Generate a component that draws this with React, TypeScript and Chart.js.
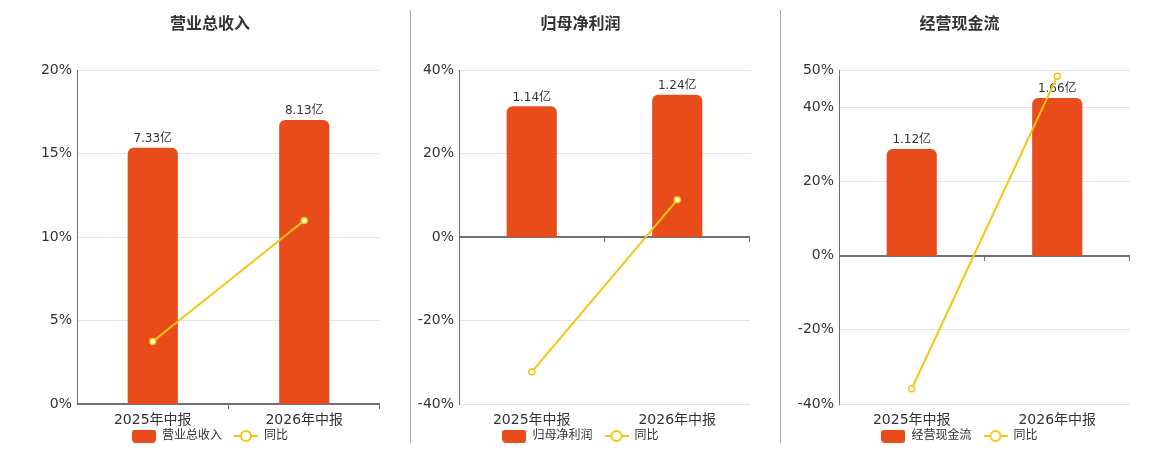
import React, { useEffect, useRef } from 'react';
import { Chart, registerables } from 'chart.js';

Chart.register(...registerables);

// Data
const categories = ['2025年中报', '2026年中报'];

const revenueValues = [7.33, 8.13];
const revenueYoY = [3.74, 10.99];
const revenueTicks = [0, 5, 10, 15, 20];

const profitValues = [1.14, 1.24];
const profitYoY = [-32.3, 8.9];
const profitTicks = [-40, -20, 0, 20, 40];

const cashValues = [1.12, 1.66];
const cashYoY = [-35.9, 48.3];
const cashTicks = [-40, -20, 0, 20, 40, 50];

const BAR_COLOR = '#e84c1b';
const LINE_COLOR = '#f3c612';
const TEXT_COLOR = '#333333';
const AXIS_COLOR = '#6e7079';
const GRID_COLOR = '#e0e6f1';
const FONT = '"DejaVu Sans", "Noto Sans CJK SC", sans-serif';

Chart.defaults.font.family = FONT;

// Legend swatches drawn on small canvases
const makeBarSwatch = () => {
  const c = document.createElement('canvas');
  c.width = 24;
  c.height = 13;
  const ctx = c.getContext('2d');
  if (ctx) {
    ctx.fillStyle = BAR_COLOR;
    ctx.beginPath();
    ctx.roundRect(0, 0, 24, 13, 3);
    ctx.fill();
  }
  return c;
};

const makeLineSwatch = () => {
  const c = document.createElement('canvas');
  c.width = 24;
  c.height = 14;
  const ctx = c.getContext('2d');
  if (ctx) {
    ctx.strokeStyle = LINE_COLOR;
    ctx.lineWidth = 2;
    ctx.beginPath();
    ctx.moveTo(0, 7);
    ctx.lineTo(24, 7);
    ctx.stroke();
    ctx.beginPath();
    ctx.arc(12, 7, 5, 0, Math.PI * 2);
    ctx.fillStyle = '#ffffff';
    ctx.fill();
    ctx.stroke();
  }
  return c;
};

interface PanelProps {
  title: string;
  barLabel: string;
  values: number[];
  yoy: number[];
  ticks: number[];
  barMin: number;
  barMax: number;
  left: number;
  width: number;
  axisWidth: number;
  padRight: number;
}

const Panel: React.FC<PanelProps> = ({
  title, barLabel, values, yoy, ticks, barMin, barMax, left, width, axisWidth, padRight,
}) => {
  const canvasRef = useRef<HTMLCanvasElement>(null);

  useEffect(() => {
    if (!canvasRef.current) return;

    const barSwatch = makeBarSwatch();
    const lineSwatch = makeLineSwatch();

    // the x labels hang below a thin axis box, so widen its clip area
    const labelRoom = {
      id: 'labelRoom',
      afterLayout(chart: any) {
        chart.scales.x.bottom = chart.scales.x.top + 30;
      },
    };

    // zero line with tick marks at category boundaries
    const zeroLine = {
      id: 'zeroLine',
      beforeDatasetsDraw(chart: any) {
        const { ctx, chartArea, scales } = chart;
        const y = Math.round(scales.y.getPixelForValue(0));
        ctx.save();
        ctx.strokeStyle = AXIS_COLOR;
        ctx.lineWidth = 2;
        ctx.beginPath();
        ctx.moveTo(chartArea.left, y);
        ctx.lineTo(chartArea.right, y);
        ctx.stroke();
        ctx.lineWidth = 1;
        const n = categories.length;
        for (let i = 1; i <= n; i++) {
          const x = Math.round(chartArea.left + (i * (chartArea.right - chartArea.left)) / n) - 0.5;
          ctx.beginPath();
          ctx.moveTo(x, y);
          ctx.lineTo(x, y + 5);
          ctx.stroke();
        }
        ctx.restore();
      },
    };

    // value labels above the bars, drawn before the line
    const barLabels = {
      id: 'barLabels',
      afterDatasetDraw(chart: any, args: any) {
        if (args.meta.type !== 'bar') return;
        const { ctx } = chart;
        ctx.save();
        ctx.font = `12px ${FONT}`;
        ctx.fillStyle = TEXT_COLOR;
        ctx.textAlign = 'center';
        ctx.textBaseline = 'alphabetic';
        args.meta.data.forEach((bar: any, i: number) => {
          ctx.fillText(`${values[i]}亿`, bar.x, bar.y - 6);
        });
        ctx.restore();
      },
    };

    const chart = new Chart(canvasRef.current, {
      type: 'bar',
      data: {
        labels: categories,
        datasets: [
          {
            type: 'bar',
            label: barLabel,
            data: values,
            yAxisID: 'y1',
            backgroundColor: BAR_COLOR,
            borderRadius: 6,
            barThickness: 49.5,
            order: 1,
          },
          {
            type: 'line',
            label: '同比',
            data: yoy,
            yAxisID: 'y',
            borderColor: LINE_COLOR,
            borderWidth: 2,
            pointRadius: 3,
            pointBackgroundColor: '#ffffff',
            pointBorderColor: LINE_COLOR,
            pointBorderWidth: 1.5,
            order: 0,
          },
        ],
      },
      options: {
        responsive: false,
        animation: false,
        events: [],
        layout: {
          autoPadding: false,
          padding: { left: 0, right: padRight, top: 0, bottom: 0 },
        },
        plugins: {
          tooltip: { enabled: false },
          title: {
            display: true,
            text: title,
            color: TEXT_COLOR,
            font: { size: 16, weight: 'bold', family: FONT },
            padding: { top: 15, bottom: 35.8 },
          },
          legend: {
            display: true,
            position: 'bottom',
            labels: {
              usePointStyle: true,
              pointStyleWidth: 24,
              boxHeight: 12,
              padding: 12,
              color: TEXT_COLOR,
              font: { size: 12, family: FONT },
              generateLabels: () => [
                {
                  text: barLabel,
                  pointStyle: barSwatch as any,
                  fillStyle: BAR_COLOR,
                  strokeStyle: BAR_COLOR,
                  lineWidth: 0,
                  hidden: false,
                  datasetIndex: 0,
                  fontColor: TEXT_COLOR,
                },
                {
                  text: '同比',
                  pointStyle: lineSwatch as any,
                  fillStyle: '#ffffff',
                  strokeStyle: LINE_COLOR,
                  lineWidth: 0,
                  hidden: false,
                  datasetIndex: 1,
                  fontColor: TEXT_COLOR,
                },
              ],
            },
          },
        },
        scales: {
          x: {
            grid: { display: false, drawTicks: false },
            border: { display: false },
            ticks: {
              color: TEXT_COLOR,
              font: { size: 14, family: FONT },
              padding: 8,
              maxRotation: 0,
            },
            afterFit: (scale: any) => {
              scale.height = 14;
              scale.paddingLeft = 0;
              scale.paddingRight = 0;
            },
          },
          y: {
            position: 'left',
            min: ticks[0],
            max: ticks[ticks.length - 1],
            grid: { color: GRID_COLOR, lineWidth: 1, drawTicks: false },
            border: { display: true, color: AXIS_COLOR, width: 1 },
            ticks: {
              color: TEXT_COLOR,
              font: { size: 14, family: FONT },
              padding: 5,
              callback: (v: any) => `${v}%`,
            },
            afterBuildTicks: (scale: any) => {
              scale.ticks = ticks.map((v) => ({ value: v }));
            },
            afterFit: (scale: any) => {
              scale.width = axisWidth;
            },
          },
          y1: {
            display: false,
            min: barMin,
            max: barMax,
          },
        },
      } as any,
      plugins: [labelRoom, zeroLine, barLabels],
    });

    return () => {
      chart.destroy();
    };
  }, [title, barLabel, values, yoy, ticks, barMin, barMax, axisWidth, padRight]);

  return (
    <canvas
      ref={canvasRef}
      width={width}
      height={452}
      style={{ position: 'absolute', left, top: 0, width, height: 452 }}
    />
  );
};

const Separator: React.FC<{ x: number }> = ({ x }) => (
  <div
    style={{
      position: 'absolute',
      left: x,
      top: 10,
      width: 1,
      height: 433,
      background: '#aaaaaa',
    }}
  />
);

const App: React.FC = () => {
  return (
    <div
      style={{
        position: 'absolute',
        left: 0,
        top: 0,
        width: 1160,
        height: 450,
        overflow: 'hidden',
        background: '#ffffff',
      }}
    >
      <Separator x={410} />
      <Separator x={780} />
      <Panel
        title="营业总收入"
        barLabel="营业总收入"
        values={revenueValues}
        yoy={revenueYoY}
        ticks={revenueTicks}
        barMin={0}
        barMax={9.57}
        left={40}
        width={340}
        axisWidth={37}
        padRight={0}
      />
      <Panel
        title="归母净利润"
        barLabel="归母净利润"
        values={profitValues}
        yoy={profitYoY}
        ticks={profitTicks}
        barMin={-1.46}
        barMax={1.46}
        left={411}
        width={340}
        axisWidth={48}
        padRight={1}
      />
      <Panel
        title="经营现金流"
        barLabel="经营现金流"
        values={cashValues}
        yoy={cashYoY}
        ticks={cashTicks}
        barMin={-1.566}
        barMax={1.958}
        left={789}
        width={342}
        axisWidth={50}
        padRight={1}
      />
    </div>
  );
};

export default App;
